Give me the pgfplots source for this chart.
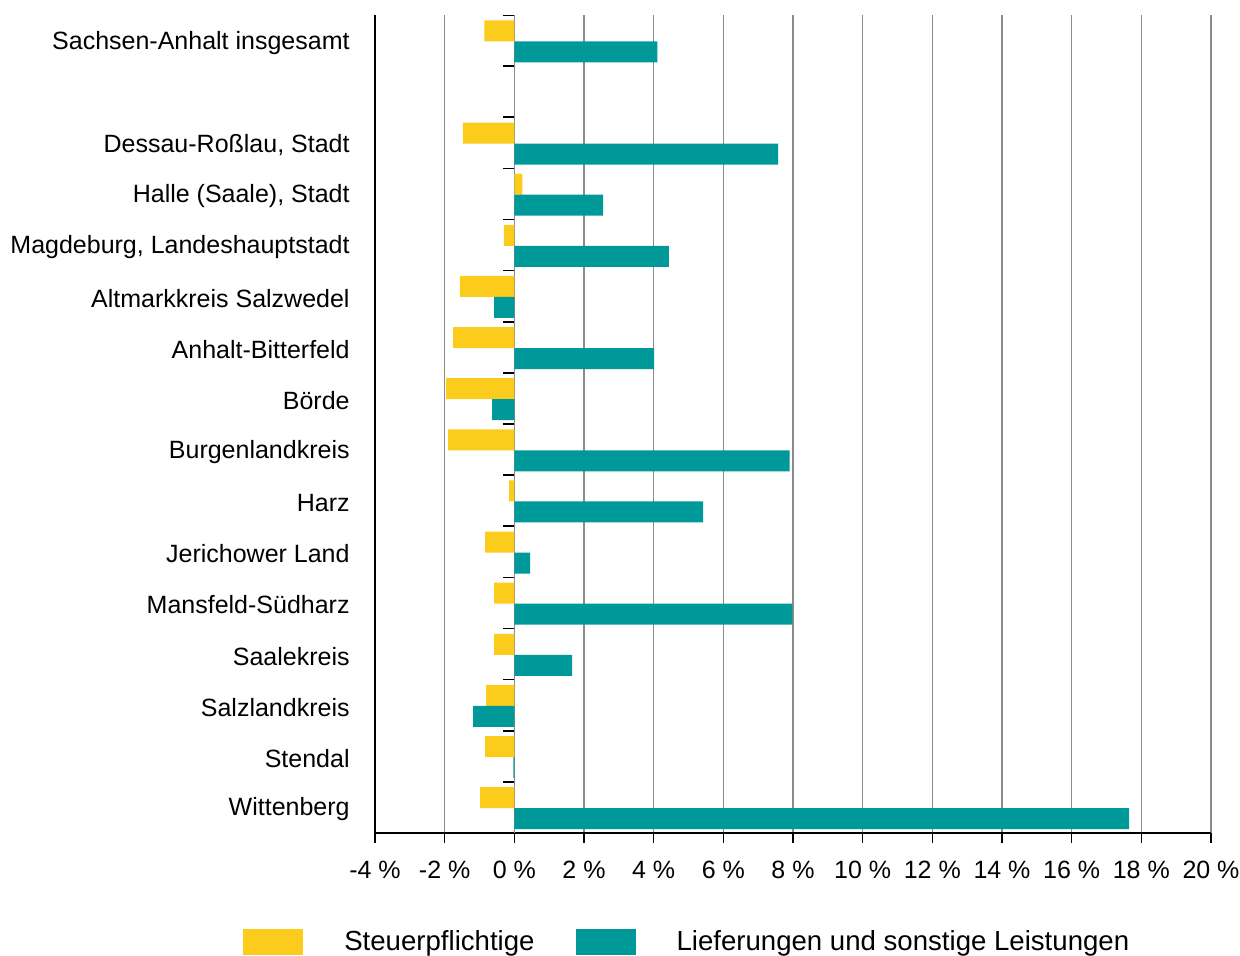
\documentclass[border=0pt]{standalone}
\usepackage{fontspec}
\setmainfont{Liberation Sans}
\usepackage{pgfplots}
\pgfplotsset{compat=1.18}
\definecolor{ygold}{HTML}{FCCC1C}
\definecolor{tealc}{HTML}{009999}
\definecolor{gridc}{HTML}{8C8C8C}

\pgfplotstableread{
y   st     lief
0   -0.86  4.11
2   -1.48  7.57
3    0.23  2.55
4   -0.30  4.44
5   -1.56 -0.58
6   -1.76  4.01
7   -1.96 -0.64
8   -1.90  7.90
9   -0.15  5.42
10  -0.84  0.45
11  -0.58  7.98
12  -0.58  1.66
13  -0.81 -1.18
14  -0.84 -0.03
15  -0.98 17.65
}\datatab

\begin{document}
\begin{tikzpicture}[x=1pt,y=1pt]
\clip (-187.5,-61) rectangle (432.5,416.5);
\begin{axis}[
  at={(0,0)}, anchor=south west,
  scale only axis, width=418pt, height=409pt,
  xbar, bar width=10.5pt,
  xmin=-4, xmax=20, ymin=-0.5, ymax=15.5, y dir=reverse,
  axis x line*=bottom, axis y line*=left,
  axis line style={black, line width=0.9pt},
  xtick={-4,-2,...,20},
  xticklabel={\pgfmathprintnumber{\tick} \%},
  /pgf/number format/assume math mode=true,
  xmajorgrids, major x grid style={gridc, line width=0.8pt},
  x tick style={black, line width=0.7pt},
  major tick length=5pt, tick align=outside,
  extra x ticks={0}, extra x tick labels={},
  extra x tick style={grid style={black, line width=0.9pt}},
  ytick={0,...,15},
  yticklabels={Sachsen-Anhalt insgesamt,{},Dessau-Roßlau{,} Stadt,Halle (Saale){,} Stadt,Magdeburg{,} Landeshauptstadt,Altmarkkreis Salzwedel,Anhalt-Bitterfeld,Börde,Burgenlandkreis,Harz,Jerichower Land,Mansfeld-Südharz,Saalekreis,Salzlandkreis,Stendal,Wittenberg},
  y tick style={draw=none},
  tick label style={font=\fontsize{12.5}{15}\selectfont},
  yticklabel style={anchor=east, inner sep=0pt, xshift=-7.5pt, yshift=-1pt},
  xticklabel style={yshift=-5.5pt},
  legend columns=2,
  legend style={at={(-0.158,-0.1333)}, anchor=west, draw=none, fill=none,
    inner sep=0pt, font=\fontsize{13.8}{16}\selectfont,
    nodes={inner sep=0pt},
    /tikz/every odd column/.append style={column sep=20.5pt},
    /tikz/every even column/.append style={column sep=20.5pt}},
  legend image code/.code={\fill[#1] (0pt,-6.5pt) rectangle (30pt,6.5pt);},
]
\addplot[fill=ygold, draw=none, bar shift=4.9pt] table[x=st, y=y] {\datatab};
\addplot[fill=tealc, draw=none, bar shift=-5.6pt] table[x=lief, y=y] {\datatab};
\legend{Steuerpflichtige, Lieferungen und sonstige Leistungen}
\pgfplotsinvokeforeach{0,...,15}{
  \draw[black, line width=0.8pt] (axis cs:0,{#1-0.5}) -- ++(-5.5pt,0pt);
}
\end{axis}
\end{tikzpicture}
\end{document}
